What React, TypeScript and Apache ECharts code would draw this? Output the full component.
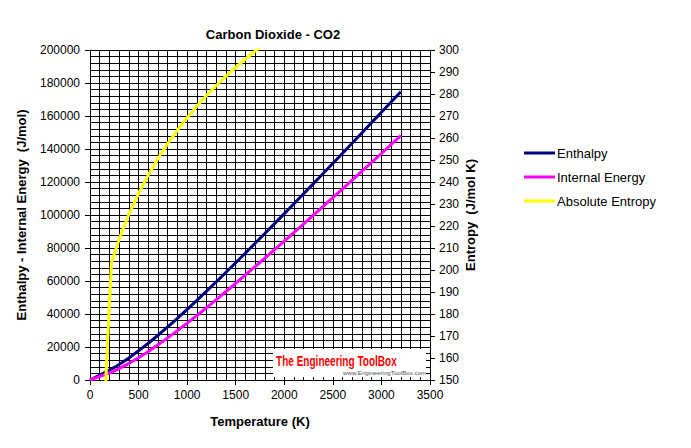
import React, { useEffect, useRef } from "react";
import * as echarts from "echarts";

// Ideal-gas properties of carbon dioxide
const temperatures = [0, 220, 250, 300, 400, 500, 600, 700, 800, 900, 1000, 1100, 1200, 1300, 1400, 1500, 1600, 1700, 1800, 1900, 2000, 2200, 2400, 2600, 2800, 3000, 3200];
const enthalpy = [0, 6601, 7627, 9431, 13372, 17678, 22280, 27125, 32179, 37405, 42769, 48258, 53848, 59522, 65271, 71078, 76944, 82853, 88806, 94793, 100804, 112939, 125152, 137449, 149808, 162226, 174695];
const internalEnergy = [0, 4772, 5548, 6939, 10046, 13521, 17291, 21305, 25527, 29922, 34455, 39112, 43871, 48713, 53631, 58606, 63741, 68721, 73840, 78996, 84185, 94648, 105197, 115832, 126528, 137283, 148089];
const entropy = [0, 202.966, 207.337, 213.915, 225.225, 234.814, 243.199, 250.663, 257.408, 263.559, 269.215, 274.445, 279.307, 283.847, 288.106, 292.114, 295.901, 299.482, 302.884, 306.122, 309.21, 314.988, 320.302, 325.222, 329.799, 334.084, 338.109];

const seriesNames = ["Enthalpy", "Internal Energy", "Absolute Entropy"];
const seriesColors = ["#000080", "#FF00FF", "#FFFF00"];

const FONT = "'Liberation Sans', Arial, sans-serif";

const pairs = (ys: number[]) => temperatures.map((t, i) => [t, ys[i]]);
const plain = (v: number) => String(v);

export default function App() {
  const ref = useRef<HTMLDivElement>(null);

  useEffect(() => {
    if (!ref.current) return;
    const chart = echarts.init(ref.current, undefined, { renderer: "svg" });
    const axisLine = { show: true, lineStyle: { color: "#000", width: 1 } };
    const gridLine = { show: true, lineStyle: { color: "#000", width: 1 } };

    chart.setOption({
      animation: false,
      backgroundColor: "#fff",
      title: {
        text: "Carbon Dioxide - CO2",
        left: 268,
        top: 23,
        textAlign: "center",
        textStyle: { fontFamily: FONT, fontSize: 13, fontWeight: "bold", color: "#000" },
      },
      legend: {
        orient: "vertical",
        left: 519,
        top: 141,
        itemWidth: 31,
        itemHeight: 3,
        itemGap: 10,
        icon: "rect",
        data: seriesNames,
        textStyle: { fontFamily: FONT, fontSize: 13, color: "#000", lineHeight: 14, padding: [0, 0, 0, -3] },
      },
      grid: { left: 90, right: 261, top: 50, bottom: 68 },
      xAxis: {
        type: "value",
        min: 0,
        max: 3500,
        interval: 500,
        name: "Temperature (K)",
        nameLocation: "middle",
        nameGap: 35,
        nameTextStyle: { fontFamily: FONT, fontSize: 13, fontWeight: "bold", color: "#000" },
        axisLine,
        axisTick: { show: true, length: 5, lineStyle: { color: "#000" } },
        axisLabel: { fontFamily: FONT, fontSize: 12, color: "#000", margin: 9, formatter: plain },
        splitLine: gridLine,
        minorTick: { show: false, splitNumber: 5 },
        minorSplitLine: gridLine,
      },
      yAxis: [
        {
          type: "value",
          min: 0,
          max: 200000,
          interval: 20000,
          name: "Enthalpy - Internal Energy  (J/mol)",
          nameLocation: "middle",
          nameGap: 62,
          nameTextStyle: { fontFamily: FONT, fontSize: 13, fontWeight: "bold", color: "#000" },
          axisLine,
          axisTick: { show: true, length: 5, lineStyle: { color: "#000" } },
          axisLabel: { fontFamily: FONT, fontSize: 12, color: "#000", margin: 10, formatter: plain },
          splitLine: gridLine,
          minorTick: { show: false, splitNumber: 5 },
          minorSplitLine: gridLine,
        },
        {
          type: "value",
          position: "right",
          min: 150,
          max: 300,
          interval: 10,
          name: "Entropy  (J/mol K)",
          nameLocation: "middle",
          nameGap: 34,
          nameTextStyle: { fontFamily: FONT, fontSize: 13, fontWeight: "bold", color: "#000" },
          axisLine,
          axisTick: { show: true, length: 5, lineStyle: { color: "#000" } },
          axisLabel: { fontFamily: FONT, fontSize: 12, color: "#000", margin: 9, formatter: plain },
          splitLine: { show: false },
        },
      ],
      series: [
        {
          name: seriesNames[0],
          type: "line",
          data: pairs(enthalpy),
          yAxisIndex: 0,
          showSymbol: false,
          symbol: "none",
          lineStyle: { color: seriesColors[0], width: 3 },
          itemStyle: { color: seriesColors[0] },
        },
        {
          name: seriesNames[1],
          type: "line",
          data: pairs(internalEnergy),
          yAxisIndex: 0,
          showSymbol: false,
          symbol: "none",
          lineStyle: { color: seriesColors[1], width: 3 },
          itemStyle: { color: seriesColors[1] },
        },
        {
          name: seriesNames[2],
          type: "line",
          data: pairs(entropy),
          yAxisIndex: 1,
          showSymbol: false,
          symbol: "none",
          clip: true,
          lineStyle: { color: seriesColors[2], width: 3 },
          itemStyle: { color: seriesColors[2] },
        },
      ],
      graphic: [
        {
          type: "group",
          left: 273,
          top: 349,
          z: 100,
          children: [
            { type: "rect", z: 100, shape: { x: 0, y: 0, width: 153, height: 28 }, style: { fill: "#fff" } },
            {
              type: "text",
              z: 101,
              x: 3,
              y: 4,
              scaleX: 0.67,
              style: {
                text: "The Engineering ToolBox",
                fill: "#ff0000",
                font: "bold 15px 'Liberation Sans', sans-serif",
              },
            },
            {
              type: "text",
              z: 101,
              x: 70,
              y: 20,
              style: {
                text: "www.EngineeringToolBox.com",
                fill: "#555",
                font: "6.2px 'Liberation Sans', sans-serif",
              },
            },
          ],
        },
      ],
    });
    return () => chart.dispose();
  }, []);

  return <div ref={ref} style={{ position: "fixed", left: 0, top: 0, width: 691, height: 448 }} />;
}
